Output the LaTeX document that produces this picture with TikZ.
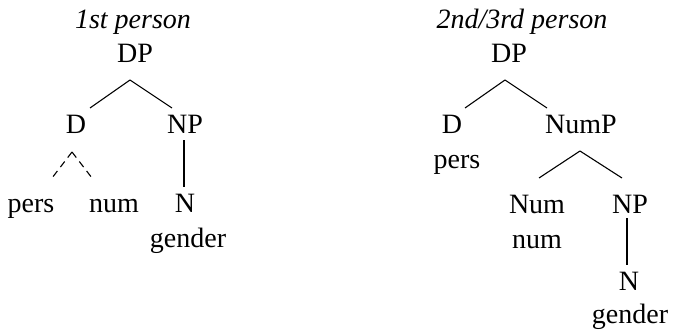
\documentclass[tikz,border=0pt]{standalone}
\usepackage{fontspec}
\setmainfont{Liberation Serif}
\begin{document}
\begin{tikzpicture}[x=1pt,y=-1pt,
		lbl/.style={inner sep=0pt,anchor=base,font=\fontsize{28}{34}\selectfont},
		ttl/.style={lbl,font=\fontsize{28}{34}\selectfont\itshape},
		branch/.style={line width=1.1pt},
		dashbranch/.style={branch,dash pattern=on 7pt off 5pt}]
	\useasboundingbox (0,0) rectangle (673,332);
	\node[ttl] (ttlL) at (133,28) {1st person};
	\node[lbl] (dpL) at (135,62) {DP};
	\node[lbl] (dL) at (76,133) {D};
	\node[lbl] (npL) at (185,133) {NP};
	\node[lbl] (persL) at (31,212) {pers};
	\node[lbl] (numL) at (114,212) {num};
	\node[lbl] (nL) at (185,212) {N};
	\node[lbl] (genL) at (188,247) {gender};
	\draw[branch] ([shift={(-5,18)}]dpL.base) -- ([shift={(14,-25)}]dL.base);
	\draw[branch] ([shift={(-5,18)}]dpL.base) -- ([shift={(-13,-25)}]npL.base);
	\draw[branch] ([shift={(-1,7)}]npL.base) -- ([shift={(-1,-25)}]nL.base);
	\draw[dashbranch] ([shift={(-4,19)}]dL.base) -- ([shift={(21,-34)}]persL.base);
	\draw[dashbranch] ([shift={(-4,19)}]dL.base) -- ([shift={(-22,-34)}]numL.base);
	\node[ttl] (ttlR) at (522,28) {2nd/3rd person};
	\node[lbl] (dpR) at (509,62) {DP};
	\node[lbl] (dR) at (452,133) {D};
	\node[lbl] (numpR) at (581,133) {NumP};
	\node[lbl] (persR) at (457,168) {pers};
	\node[lbl] (numR) at (537,213) {Num};
	\node[lbl] (npR) at (630,213) {NP};
	\node[lbl] (numfR) at (537,248) {num};
	\node[lbl] (nR) at (629,290) {N};
	\node[lbl] (genR) at (630,323) {gender};
	\draw[branch] ([shift={(-4,18)}]dpR.base) -- ([shift={(13,-25)}]dR.base);
	\draw[branch] ([shift={(-4,18)}]dpR.base) -- ([shift={(-34,-25)}]numpR.base);
	\draw[branch] ([shift={(-1,18)}]numpR.base) -- ([shift={(2,-35)}]numR.base);
	\draw[branch] ([shift={(-1,18)}]numpR.base) -- ([shift={(-8,-35)}]npR.base);
	\draw[branch] ([shift={(-3,5)}]npR.base) -- ([shift={(-2,-25)}]nR.base);
\end{tikzpicture}
\end{document}
